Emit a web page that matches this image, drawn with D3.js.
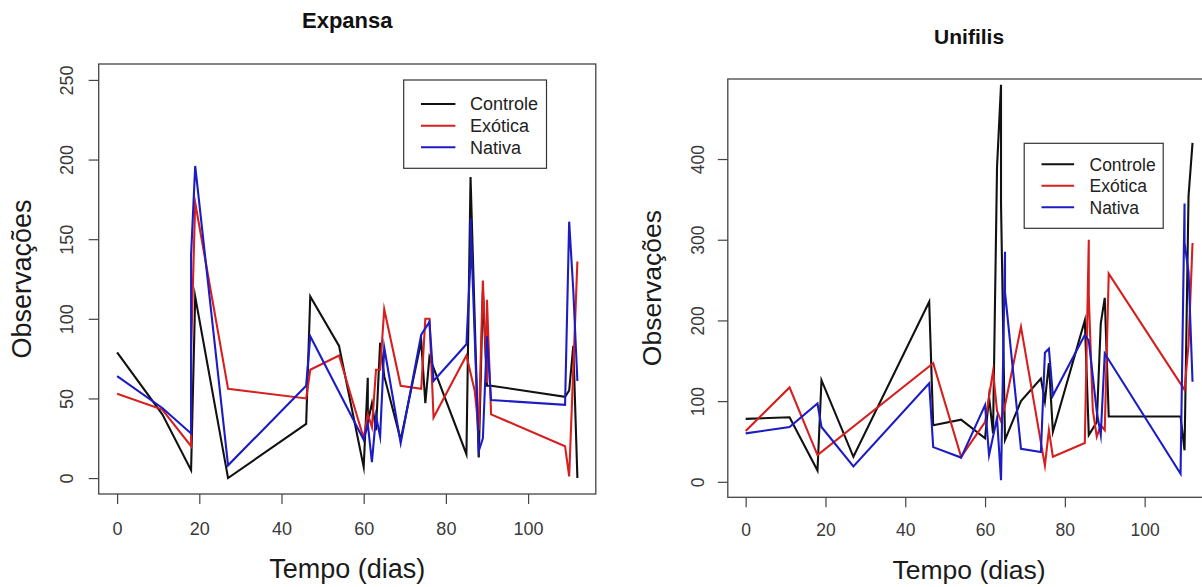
<!DOCTYPE html>
<html>
<head>
<meta charset="utf-8">
<script src="https://cdn.jsdelivr.net/npm/d3@7"></script>
<style>
  html, body { margin: 0; padding: 0; background: #fff; }
  svg { display: block; font-family: "Liberation Sans", Arial, sans-serif; }
</style>
</head>
<body>
<svg id="chart" width="1202" height="587"></svg>
<script>
// Observations over time (days) for the two species, by treatment.
const seriesNames = ["Controle", "Exótica", "Nativa"];
const seriesColors = ["#111111", "#d61f1f", "#1c1cc4"];

// Expansa: [day, observations]
const expansaControle = [[0,79],[11,40],[18,5],[19,114],[27,0],[46,34],[47,114],[54,83],[60,7],[61,63],[61,35],[62,47],[63,30],[64,85],[65,64],[69,24],[74,86],[75,47],[76,76],[85,15],[86,189],[88,13],[89,117],[90,58],[91,58],[109,51],[110,55],[111,83],[112,0]];
const expansaExotica = [[0,53],[11,43],[18,20],[18,80],[19,173],[27,56],[46,50],[47,68],[54,77],[60,25],[61,40],[62,32],[63,68],[64,68],[65,106],[69,58],[74,56],[75,100],[76,100],[77,38],[85,77],[87,55],[88,30],[89,124],[90,60],[90,112],[91,40],[109,20],[110,1],[112,136]];
const expansaNativa = [[0,64],[11,44],[18,28],[18,140],[19,196],[27,8],[46,58],[47,89],[60,24],[61,34],[62,10],[63,39],[64,26],[65,82],[69,22],[74,90],[76,98],[77,61],[85,84],[86,137],[86,163],[88,17],[89,25],[90,89],[91,49],[109,46],[110,161],[111,118],[112,61]];

// Unifilis: [day, observations]
const unifilisControle = [[0,78],[11,80],[18,14],[19,126],[27,31],[46,223],[47,70],[54,77],[60,54],[61,105],[62,60],[63,390],[64,492],[64,345],[65,52],[69,100],[74,128],[75,100],[76,147],[77,62],[85,200],[86,58],[88,74],[89,196],[90,228],[91,81],[109,81],[110,39],[111,354],[112,420]];
const unifilisExotica = [[0,63],[11,117],[18,33],[47,147],[54,31],[60,74],[62,137],[63,88],[64,75],[65,95],[69,192],[75,20],[76,64],[77,31],[85,48],[86,300],[86,230],[87,89],[88,56],[89,70],[90,64],[91,258],[110,114],[111,170],[112,296]];
const unifilisNativa = [[0,60],[11,68],[18,97],[19,68],[27,19],[46,122],[47,43],[54,30],[60,95],[61,33],[63,79],[64,2],[65,285],[65,235],[69,41],[74,37],[75,160],[76,165],[77,107],[85,182],[86,175],[88,87],[89,58],[90,159],[109,10],[110,345],[110,296],[111,260],[112,124]];

// Axis limits and ticks
const dayLimits = [0, 112];
const dayTicks = [0, 20, 40, 60, 80, 100];
const expansaLimits = [0, 250];
const expansaTicks = [0, 50, 100, 150, 200, 250];
const unifilisLimits = [0, 480];
const unifilisTicks = [0, 100, 200, 300, 400];

const xLabel = "Tempo (dias)";
const yLabel = "Observações";

const svg = d3.select("#chart");

// pad limits by 4% on each side, like base graphics
function padded([a, b]) {
  const r = (b - a) * 0.04;
  return [a - r, b + r];
}

function drawPanel(opt) {
  const { id, title, box, yLimits, yTicks, data, legendBox, legendRows, font, layout } = opt;
  const x = d3.scaleLinear().domain(padded(dayLimits)).range([box.x0, box.x1]);
  const y = d3.scaleLinear().domain(padded(yLimits)).range([box.y1, box.y0]);
  const g = svg.append("g");

  // clip region = plot box
  svg.append("defs").append("clipPath").attr("id", "clip-" + id)
    .append("rect").attr("x", box.x0).attr("y", box.y0)
    .attr("width", box.x1 - box.x0).attr("height", box.y1 - box.y0);

  // title
  g.append("text").attr("x", (box.x0 + box.x1) / 2).attr("y", layout.titleY)
    .attr("text-anchor", "middle").attr("font-weight", "bold")
    .attr("font-size", font.title).attr("fill", "#111").text(title);

  // x axis
  const xAxis = d3.axisBottom(x).tickValues(dayTicks).tickSize(layout.tick).tickPadding(0).tickFormat(d3.format("d"));
  const gx = g.append("g").attr("transform", `translate(0,${box.y1})`).call(xAxis);
  gx.select(".domain").remove();
  gx.selectAll(".tick line").attr("stroke", "#444").attr("stroke-width", 1.2);
  gx.selectAll(".tick text").attr("y", layout.xTickY - box.y1).attr("dy", 0)
    .attr("font-size", font.tick).attr("fill", "#3a3a3a")
    .attr("font-family", "Liberation Sans, Arial, sans-serif");

  // y axis (labels parallel to the axis)
  const yAxis = d3.axisLeft(y).tickValues(yTicks).tickSize(layout.tick).tickPadding(0).tickFormat(d3.format("d"));
  const gy = g.append("g").attr("transform", `translate(${box.x0},0)`).call(yAxis);
  gy.select(".domain").remove();
  gy.selectAll(".tick line").attr("stroke", "#444").attr("stroke-width", 1.2);
  gy.selectAll(".tick text")
    .attr("x", null).attr("dy", null)
    .attr("transform", `translate(${layout.yTickX - box.x0},0) rotate(-90)`)
    .attr("text-anchor", "middle")
    .attr("font-size", font.tick).attr("fill", "#3a3a3a")
    .attr("font-family", "Liberation Sans, Arial, sans-serif");

  // axis titles
  g.append("text").attr("x", (box.x0 + box.x1) / 2).attr("y", layout.xLabelY)
    .attr("text-anchor", "middle").attr("font-size", font.label).attr("fill", "#1a1a1a").text(xLabel);
  g.append("text")
    .attr("transform", `translate(${layout.yLabelX},${(box.y0 + box.y1) / 2}) rotate(-90)`)
    .attr("text-anchor", "middle").attr("font-size", font.label).attr("fill", "#1a1a1a").text(yLabel);

  // series lines, drawn in order so the last one sits on top
  const line = d3.line().x(d => x(d[0])).y(d => y(d[1]));
  const lines = g.append("g").attr("clip-path", `url(#clip-${id})`);
  data.forEach((s, i) => {
    lines.append("path").datum(s).attr("d", line)
      .attr("fill", "none").attr("stroke", seriesColors[i])
      .attr("stroke-width", 2.1).attr("stroke-linejoin", "miter").attr("stroke-miterlimit", 10);
  });

  // plot box
  g.append("rect").attr("x", box.x0).attr("y", box.y0)
    .attr("width", box.x1 - box.x0).attr("height", box.y1 - box.y0)
    .attr("fill", "none").attr("stroke", "#444").attr("stroke-width", 1.3);

  // legend
  const lg = g.append("g");
  lg.append("rect").attr("x", legendBox.x0).attr("y", legendBox.y0)
    .attr("width", legendBox.x1 - legendBox.x0).attr("height", legendBox.y1 - legendBox.y0)
    .attr("fill", "#fff").attr("stroke", "#333").attr("stroke-width", 1.2);
  seriesNames.forEach((name, i) => {
    const cy = legendRows.y[i];
    lg.append("line").attr("x1", legendRows.lx0).attr("x2", legendRows.lx1)
      .attr("y1", cy).attr("y2", cy).attr("stroke", seriesColors[i]).attr("stroke-width", 2.1);
    lg.append("text").attr("x", legendRows.tx).attr("y", cy + font.legend * 0.36)
      .attr("font-size", font.legend).attr("fill", "#222").text(name);
  });
}

drawPanel({
  id: "expansa",
  title: "Expansa",
  box: { x0: 98.7, x1: 595.8, y0: 64, y1: 494 },
  yLimits: expansaLimits,
  yTicks: expansaTicks,
  data: [expansaControle, expansaExotica, expansaNativa],
  legendBox: { x0: 403.7, x1: 546.5, y0: 80, y1: 168.3 },
  legendRows: { lx0: 421, lx1: 455.4, tx: 470, y: [104, 125.7, 147.3] },
  font: { title: 22, tick: 18, label: 27, legend: 18 },
  layout: { titleY: 28, tick: 10, xTickY: 535, yTickX: 72.5, xLabelY: 578, yLabelX: 30.5 }
});

drawPanel({
  id: "unifilis",
  title: "Unifilis",
  box: { x0: 727.8, x1: 1210.4, y0: 79, y1: 497.3 },
  yLimits: unifilisLimits,
  yTicks: unifilisTicks,
  data: [unifilisControle, unifilisExotica, unifilisNativa],
  legendBox: { x0: 1024.2, x1: 1163.2, y0: 143.3, y1: 228.3 },
  legendRows: { lx0: 1041.5, lx1: 1074.1, tx: 1089.5, y: [164.3, 185.7, 207.3] },
  font: { title: 21, tick: 17.5, label: 26.5, legend: 17.5 },
  layout: { titleY: 44, tick: 10, xTickY: 536.5, yTickX: 704, xLabelY: 579, yLabelX: 661 }
});
</script>
</body>
</html>
